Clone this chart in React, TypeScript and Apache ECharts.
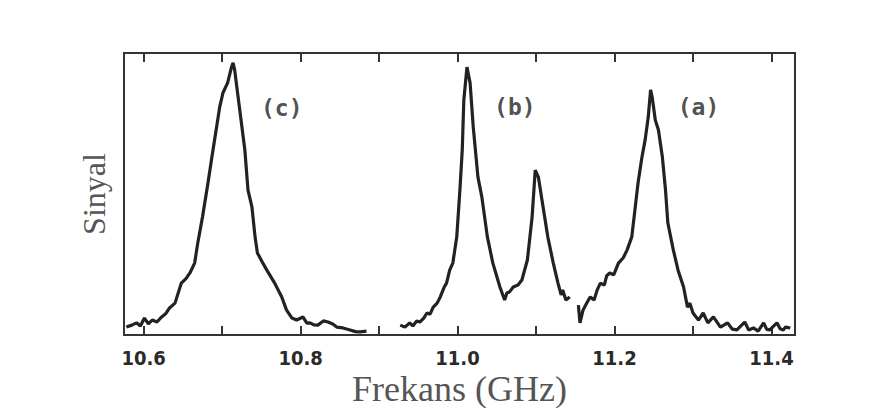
import React, { useEffect, useRef } from "react";
import * as echarts from "echarts";

// Curve (c)
const cFreq = [10.578, 10.585, 10.591, 10.596, 10.601, 10.606, 10.611, 10.617, 10.623, 10.628, 10.633, 10.640, 10.648, 10.654, 10.659, 10.665, 10.669, 10.675, 10.682, 10.687, 10.693, 10.697, 10.701, 10.707, 10.712, 10.714, 10.716, 10.722, 10.729, 10.733, 10.738, 10.742, 10.745, 10.751, 10.757, 10.767, 10.776, 10.782, 10.789, 10.795, 10.803, 10.808, 10.812, 10.817, 10.822, 10.829, 10.835, 10.841, 10.846, 10.854, 10.863, 10.870, 10.876, 10.884];
const cSig = [2.8, 3.5, 4.3, 3.2, 6.0, 4.0, 5.3, 4.6, 6.4, 7.5, 9.6, 11.3, 18.4, 20.0, 22.0, 25.5, 32.6, 41.8, 53.9, 63.1, 73.8, 80.9, 85.8, 89.4, 95.0, 96.5, 94.0, 80.9, 65.6, 51.4, 45.4, 34.8, 29.1, 26.0, 23.0, 18.4, 13.5, 8.9, 6.0, 5.3, 6.4, 4.2, 4.3, 3.6, 3.5, 5.0, 4.6, 3.9, 2.8, 2.5, 1.8, 1.2, 1.1, 1.4];

// Curve (b)
const bFreq = [10.927, 10.933, 10.939, 10.943, 10.948, 10.952, 10.957, 10.961, 10.965, 10.969, 10.974, 10.978, 10.983, 10.986, 10.990, 10.994, 10.999, 11.003, 11.006, 11.008, 11.012, 11.016, 11.020, 11.026, 11.031, 11.038, 11.045, 11.054, 11.060, 11.063, 11.066, 11.071, 11.077, 11.082, 11.089, 11.095, 11.099, 11.103, 11.109, 11.115, 11.122, 11.128, 11.132, 11.134, 11.138, 11.143];
const bSig = [3.5, 2.8, 4.3, 3.2, 5.0, 4.6, 6.0, 7.8, 7.4, 9.9, 11.3, 13.5, 17.0, 18.4, 23.0, 25.5, 34.8, 51.4, 65.6, 83.3, 95.0, 89.4, 73.8, 56.0, 48.9, 34.8, 25.5, 17.0, 12.4, 15.0, 15.2, 17.0, 17.7, 19.5, 26.6, 41.8, 58.5, 56.0, 45.4, 34.8, 25.5, 18.4, 14.2, 16.0, 12.4, 13.5];

// Curve (a)
const aFreq = [11.154, 11.156, 11.160, 11.164, 11.169, 11.174, 11.178, 11.182, 11.187, 11.190, 11.194, 11.199, 11.205, 11.211, 11.216, 11.222, 11.226, 11.230, 11.235, 11.239, 11.243, 11.246, 11.248, 11.252, 11.256, 11.261, 11.265, 11.268, 11.275, 11.281, 11.288, 11.293, 11.296, 11.300, 11.307, 11.313, 11.319, 11.326, 11.335, 11.344, 11.350, 11.356, 11.362, 11.366, 11.371, 11.377, 11.383, 11.390, 11.394, 11.398, 11.404, 11.407, 11.411, 11.415, 11.418, 11.424];
const aSig = [10.6, 4.3, 8.9, 11.0, 13.5, 12.4, 16.0, 18.4, 17.7, 21.0, 22.0, 21.3, 25.5, 27.3, 30.1, 34.8, 44.3, 53.9, 63.1, 69.1, 77.3, 86.9, 84.4, 76.2, 72.7, 63.1, 51.4, 39.7, 30.1, 23.0, 17.0, 9.9, 11.3, 7.8, 5.3, 7.8, 4.3, 6.4, 2.8, 4.3, 2.1, 1.8, 3.5, 4.6, 1.8, 2.5, 1.4, 4.3, 2.0, 1.8, 3.5, 4.3, 2.2, 1.8, 2.8, 2.5];

// Annotations
const labelNames = ["(c)", "(b)", "(a)"];
const labelFreq = [10.776, 11.073, 11.307];
const labelSig = [80.5, 80.9, 80.9];

const tickValues = [10.6, 10.7, 10.8, 10.9, 11.0, 11.1, 11.2, 11.3, 11.4];
const tickLabels = [10.6, 10.8, 11.0, 11.2, 11.4];

const zip = (xs: number[], ys: number[]) => xs.map((x, i) => [x, ys[i]]);

export default function App() {
  const ref = useRef<HTMLDivElement>(null);
  useEffect(() => {
    if (!ref.current) return;
    const chart = echarts.init(ref.current, null, { renderer: "svg" });
    const lineStyle = { color: "#222", width: 3.2 };
    const mkLine = (name: string, data: number[][]) => ({
      name,
      type: "line",
      data,
      showSymbol: false,
      symbol: "none",
      lineStyle,
      xAxisIndex: 0,
      yAxisIndex: 0,
    });
    chart.setOption({
      animation: false,
      backgroundColor: "#ffffff",
      grid: {
        left: 116,
        right: 89,
        top: 45,
        bottom: 73,
        show: true,
        borderColor: "#333",
        borderWidth: 2,
        backgroundColor: "transparent",
        containLabel: false,
        outerBoundsMode: "none",
      },
      xAxis: [
        {
          type: "value",
          min: 10.575,
          max: 11.43,
          position: "bottom",
          axisLine: { show: false },
          splitLine: { show: false },
          axisTick: {
            show: true,
            inside: true,
            length: 9,
            customValues: tickValues,
            lineStyle: { color: "#333", width: 2 },
          },
          axisLabel: {
            show: true,
            customValues: tickLabels,
            formatter: (v: number) => v.toFixed(1),
            margin: 13,
            fontFamily: "'DejaVu Sans Condensed', 'DejaVu Sans', sans-serif",
            fontWeight: "bold",
            fontSize: 20,
            color: "#2a2a2a",
          },
          name: "Frekans (GHz)",
          nameLocation: "middle",
          nameGap: 36,
          nameMoveOverlap: false,
          nameTextStyle: {
            fontFamily: "'Liberation Serif', 'Times New Roman', serif",
            fontSize: 36,
            color: "#555",
          },
        },
        {
          type: "value",
          min: 10.575,
          max: 11.43,
          position: "top",
          axisLine: { show: false },
          splitLine: { show: false },
          axisTick: {
            show: true,
            inside: true,
            length: 9,
            customValues: tickValues,
            lineStyle: { color: "#333", width: 2 },
          },
          axisLabel: { show: false },
        },
      ],
      yAxis: {
        type: "value",
        min: 0,
        max: 100,
        axisLine: { show: false },
        axisTick: { show: false },
        axisLabel: { show: false },
        splitLine: { show: false },
        name: "Sinyal",
        nameLocation: "middle",
        nameGap: 14,
        nameTextStyle: {
          fontFamily: "'Liberation Serif', 'Times New Roman', serif",
          fontSize: 32,
          color: "#555",
        },
      },
      series: [
        mkLine("c", zip(cFreq, cSig)),
        mkLine("b", zip(bFreq, bSig)),
        mkLine("a", zip(aFreq, aSig)),
        {
          type: "scatter",
          symbolSize: 0,
          data: labelNames.map((n, i) => ({ name: n, value: [labelFreq[i], labelSig[i]] })),
          label: {
            show: true,
            position: "inside",
            formatter: (p: any) => p.name,
            fontFamily: "'DejaVu Sans Mono', monospace",
            fontWeight: "bold",
            fontSize: 23,
            color: "#222",
          },
        },
      ],
    });
    return () => chart.dispose();
  }, []);
  return <div ref={ref} style={{ width: 876, height: 400 }} />;
}
